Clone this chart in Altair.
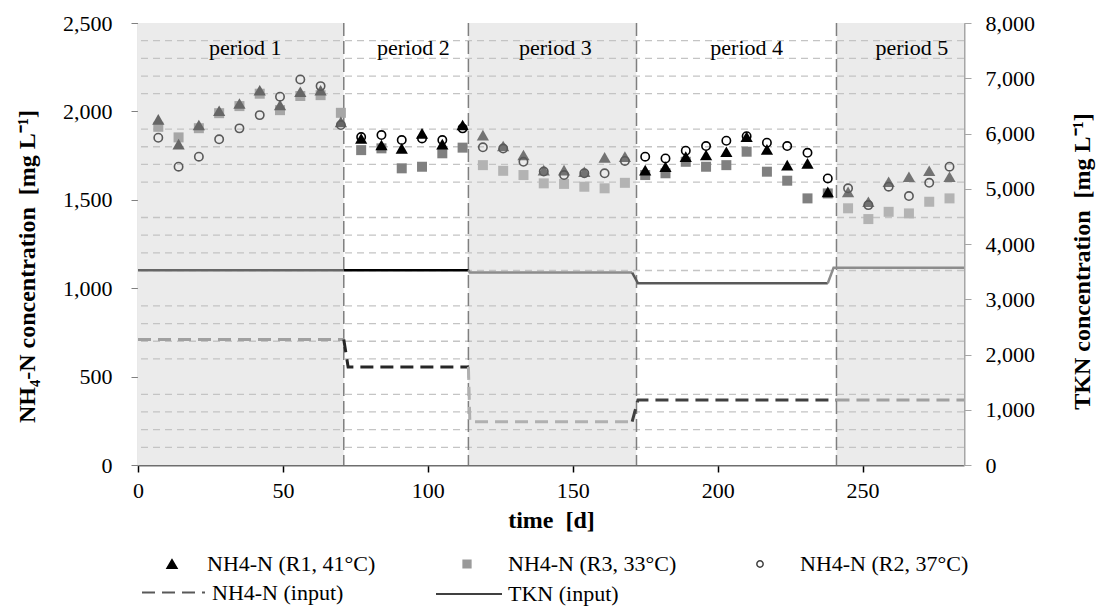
import altair as alt
import pandas as pd

# ---------------- data ----------------
sample_day = [7, 14, 21, 28, 35, 42, 49, 56, 63, 70,
              77, 84, 91, 98, 105, 112,
              119, 126, 133, 140, 147, 154, 161, 168,
              175, 182, 189, 196, 203, 210, 217, 224, 231, 238,
              245, 252, 259, 266, 273, 280]

nh4_r1_41C = [1955, 1815, 1923, 2004, 2045, 2120, 2036, 2111, 2120, 1941,
              1847, 1810, 1791, 1876, 1815, 1923,
              1866, 1804, 1753, 1668, 1668, 1659, 1740, 1744,
              1668, 1687, 1744, 1753, 1772, 1857, 1785, 1696, 1706, 1545,
              1545, 1489, 1602, 1630, 1664, 1630]

nh4_r3_33C = [1913, 1853, 1905, 1990, 2030, 2100, 2007, 2087, 2092, 1992,
              1781, 1791, 1678, 1687, 1763, 1795,
              1696, 1664, 1640, 1593, 1590, 1574, 1565, 1596,
              1640, 1650, 1715, 1687, 1696, 1772, 1659, 1608, 1508, 1536,
              1452, 1391, 1432, 1423, 1489, 1508]

nh4_r2_37C = [1851, 1687, 1744, 1842, 1904, 1979, 2083, 2181, 2143, 1923,
              1855, 1866, 1838, 1847, 1838, 1904,
              1797, 1790, 1715, 1660, 1640, 1650, 1650, 1720,
              1744, 1734, 1778, 1804, 1834, 1860, 1823, 1804, 1766, 1621,
              1565, 1470, 1574, 1521, 1596, 1687]

period_name = ["period 1", "period 2", "period 3", "period 4", "period 5"]
period_start = [0, 71, 114, 172, 241]
period_end = [71, 114, 172, 241, 285]
period_label_day = [37, 95, 144, 210, 267]
period_label_level = 2360

nh4_input_day = [[0, 71], [71, 72.5, 114], [114, 114.5, 170.5], [170.5, 172.5, 241], [241, 285]]
nh4_input_val = [[710, 710], [710, 555, 555], [555, 245, 245], [245, 368, 368], [368, 368]]
tkn_input_day = [[0, 71], [71, 114], [114, 114.5, 170.5], [170.5, 172.5, 238], [238, 240, 285]]
tkn_input_val = [[3527, 3527], [3527, 3527], [3527, 3482, 3482], [3482, 3290, 3290], [3290, 3570, 3570]]

x_ticks = [0, 50, 100, 150, 200, 250]
left_ticks = [0, 500, 1000, 1500, 2000, 2500]
right_ticks = [0, 1000, 2000, 3000, 4000, 5000, 6000, 7000, 8000]
minor_grid = [100, 200, 300, 400, 600, 700, 800, 900, 1100, 1200, 1300, 1400,
              1600, 1700, 1800, 1900, 2100, 2200, 2300, 2400]

# ---------------- styles ----------------
FONT = "Liberation Serif"
FS = 22
TFS = 24
SP2 = "\u00a0\u00a0"
W, H = 826, 442
shade_col = ["#ebebeb", "#ffffff", "#ebebeb", "#ffffff", "#ebebeb"]
tri_col = ["#666666", "#000000", "#737373", "#000000", "#737373"]
sq_col = ["#a6a6a6", "#808080", "#b3b3b3", "#808080", "#b3b3b3"]
circ_col = ["#595959", "#000000", "#595959", "#000000", "#595959"]
tkn_col = ["#666666", "#000000", "#8c8c8c", "#595959", "#8c8c8c"]
nh4_col = ["#a0a0a0", "#262626", "#b0b0b0", "#404040", "#a0a0a0"]


def period_index(d):
    for i, e in enumerate(period_end):
        if d <= e:
            return i
    return len(period_end) - 1


xs = alt.Scale(domain=[0, 285], nice=False, zero=False)
yl = alt.Scale(domain=[0, 2500], nice=False)
yr = alt.Scale(domain=[0, 8000], nice=False)

x_axis = alt.Axis(values=x_ticks, title="time" + SP2 + "[d]", titleFont=FONT, titleFontSize=TFS,
                  titleFontWeight="bold", titleColor="black", titlePadding=7,
                  labelFont=FONT, labelFontSize=FS, labelColor="black", labelPadding=8,
                  tickColor="black", tickSize=7, tickWidth=1.5, domainColor="#6e6e6e",
                  domainWidth=2, grid=False, labelFlush=False)

X = alt.X("day:Q", scale=xs, axis=x_axis)

# background shading
periods = pd.DataFrame({"start": period_start, "end": period_end, "shade": shade_col,
                        "name": period_name, "lx": period_label_day,
                        "ly": [period_label_level] * 5})
bg = alt.Chart(periods).mark_rect().encode(
    x=alt.X("start:Q", scale=xs, axis=x_axis), x2="end:Q",
    y=alt.value(0), y2=alt.value(H),
    fill=alt.Fill("shade:N", scale=None))

grid = alt.Chart(pd.DataFrame({"g": minor_grid})).mark_rule(
    color="#c4c4c4", strokeDash=[7, 5], strokeWidth=1.3).encode(
    y=alt.Y("g:Q", scale=yl, axis=None))

bounds = alt.Chart(pd.DataFrame({"day": period_start[1:]})).mark_rule(
    color="#7f7f7f", strokeDash=[13, 5], strokeWidth=1.5).encode(x=X)

# input lines
rows = []
for p in range(5):
    for k, (d, v) in enumerate(zip(nh4_input_day[p], nh4_input_val[p])):
        rows.append({"day": d, "v": v, "period": p, "seq": k, "col": nh4_col[p],
                     "leg": "NH4-N (input)"})
nh4_df = pd.DataFrame(rows)
rows = []
for p in range(5):
    for k, (d, v) in enumerate(zip(tkn_input_day[p], tkn_input_val[p])):
        rows.append({"day": d, "v": v, "period": p, "seq": k, "col": tkn_col[p],
                     "leg": "TKN (input)"})
tkn_df = pd.DataFrame(rows)

common_leg = dict(orient="none", title=None, labelFont=FONT, labelFontSize=FS,
                  labelColor="black", padding=0, rowPadding=0, labelLimit=400)

ROW1_Y = 530
ROW2_Y = 537

nh4_line = alt.Chart(nh4_df).mark_line(strokeWidth=3).encode(
    x=X, y=alt.Y("v:Q", scale=yl, axis=None),
    detail="period:N", order="seq:Q",
    stroke=alt.Stroke("col:N", scale=None),
    strokeDash=alt.StrokeDash("leg:N", scale=alt.Scale(domain=["NH4-N (input)"], range=[[13, 7]]),
                              legend=alt.Legend(legendX=3, legendY=ROW2_Y, symbolType="stroke",
                                                symbolSize=3969, symbolStrokeColor="#595959",
                                                symbolStrokeWidth=2, labelOffset=6, **common_leg)))

tkn_line = alt.Chart(tkn_df).mark_line(strokeWidth=2.5).encode(
    x=X,
    y=alt.Y("v:Q", scale=yr, axis=alt.Axis(
        orient="right", values=right_ticks, format=",.0f",
        title="TKN concentration" + SP2 + "[mg L⁻¹]", titleFont=FONT, titleFontSize=TFS,
        titleFontWeight="bold", titleColor="black", titleAngle=270, titleBaseline="top",
        titlePadding=36, titleY=238, labelFont=FONT, labelFontSize=FS, labelColor="black",
        labelPadding=14, tickColor="#a6a6a6", tickSize=7, domainColor="#a6a6a6",
        domainWidth=2, grid=False)),
    detail="period:N", order="seq:Q",
    stroke=alt.Stroke("col:N", scale=None),
    strokeDash=alt.StrokeDash("leg:N", scale=alt.Scale(domain=["TKN (input)"], range=[[1, 0]]),
                              legend=alt.Legend(legendX=297, legendY=ROW2_Y, symbolType="stroke",
                                                symbolSize=4356, symbolStrokeColor="#404040",
                                                symbolStrokeWidth=2, labelOffset=5, **common_leg)))


def scatter_df(values, name, cols):
    return pd.DataFrame({"day": sample_day, "v": values, "series": name,
                         "col": [cols[period_index(d)] for d in sample_day]})


left_axis = alt.Axis(values=left_ticks, format=",.0f",
                     title="NH₄-N concentration" + SP2 + "[mg L⁻¹]",
                     titleFont=FONT, titleFontSize=TFS, titleFontWeight="bold",
                     titleColor="black", titlePadding=23, titleY=243, labelFont=FONT,
                     labelFontSize=FS, labelColor="black", labelPadding=19,
                     tickColor="#808080", tickSize=7, domainColor="#a6a6a6",
                     domainWidth=1.5, grid=False)

sq = alt.Chart(scatter_df(nh4_r3_33C, "NH4-N (R3, 33°C)", sq_col)).mark_point(
    filled=True, size=100, opacity=1).encode(
    x=X, y=alt.Y("v:Q", scale=yl, axis=None),
    fill=alt.Fill("col:N", scale=None),
    shape=alt.Shape("series:N", scale=alt.Scale(domain=["NH4-N (R3, 33°C)"], range=["square"]),
                    legend=alt.Legend(legendX=318, legendY=ROW1_Y, symbolFillColor="#999999",
                                      symbolStrokeColor="#999999", symbolSize=60,
                                      labelOffset=30, **common_leg)))

tri = alt.Chart(scatter_df(nh4_r1_41C, "NH4-N (R1, 41°C)", tri_col)).mark_point(
    filled=True, size=150, opacity=1).encode(
    x=X, y=alt.Y("v:Q", scale=yl, axis=left_axis),
    fill=alt.Fill("col:N", scale=None),
    shape=alt.Shape("series:N", scale=alt.Scale(domain=["NH4-N (R1, 41°C)"], range=["triangle-up"]),
                    legend=alt.Legend(legendX=23, legendY=ROW1_Y, symbolFillColor="#000000",
                                      symbolStrokeColor="#000000", symbolSize=100,
                                      labelOffset=24, **common_leg)))

circ = alt.Chart(scatter_df(nh4_r2_37C, "NH4-N (R2, 37°C)", circ_col)).mark_point(
    filled=False, size=70, opacity=1, strokeWidth=1.6).encode(
    x=X, y=alt.Y("v:Q", scale=yl, axis=None),
    stroke=alt.Stroke("col:N", scale=None),
    shape=alt.Shape("series:N", scale=alt.Scale(domain=["NH4-N (R2, 37°C)"], range=["circle"]),
                    legend=alt.Legend(legendX=611, legendY=ROW1_Y, symbolFillColor="transparent",
                                      symbolStrokeColor="#404040", symbolStrokeWidth=1.5,
                                      symbolSize=40, labelOffset=29, **common_leg)))

labels = alt.Chart(periods).mark_text(font=FONT, fontSize=FS, color="black",
                                      align="center", baseline="middle").encode(
    x=alt.X("lx:Q", scale=xs, axis=x_axis),
    y=alt.Y("ly:Q", scale=yl, axis=None),
    text="name:N")

chart = alt.layer(bg, grid, bounds, nh4_line, tkn_line, sq, tri, circ, labels).resolve_scale(
    y="independent", shape="independent", strokeDash="independent"
).resolve_legend(
    shape="independent", strokeDash="independent"
).properties(
    width=W, height=H,
    padding={"left": 130, "top": 15, "right": 132, "bottom": 142},
    autosize=alt.AutoSizeParams(type="none"),
    background="white"
).configure_view(stroke="#d9d9d9", strokeWidth=1)

chart.save("out.html", embed_options={"renderer": "svg", "actions": False})
